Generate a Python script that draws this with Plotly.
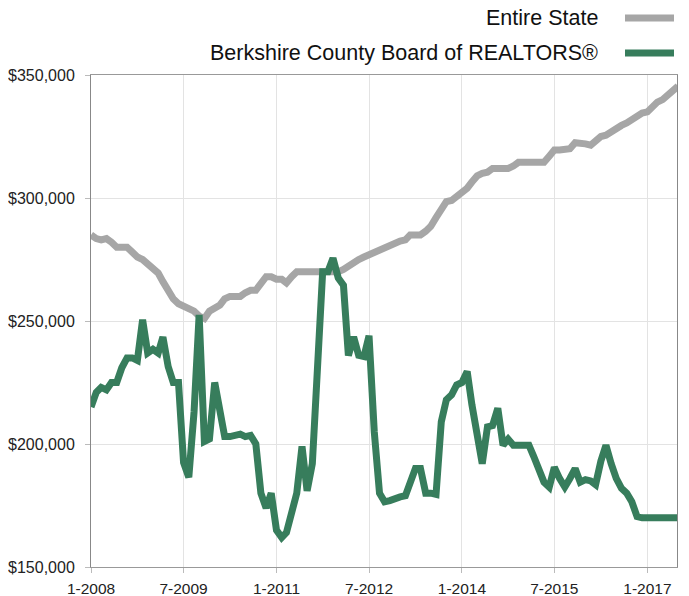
import plotly.graph_objects as go
import pandas as pd

# monthly median sales price, Jan 2008 onward
months = pd.date_range("2008-01-01", periods=115, freq="MS")

entire_state = [
    285000, 283500, 283000, 283500, 282000, 280000, 280000, 280000, 278000, 276000,
    275000, 273000, 271000, 269500, 266000, 262000, 259000, 257000, 256000, 255000,
    254000, 252000, 251000, 254000, 255500, 256500, 259000, 260000, 260000, 260000,
    261500, 262500, 262500, 265000, 268000, 268000, 267000, 267000, 265500, 268000,
    270000, 270000, 270000, 270000, 270000, 270000, 270000, 270000, 270000, 271000,
    272500, 274000, 275000, 276000, 277000, 278000, 279000, 279500, 280500, 282000,
    282500, 283000, 285000, 285000, 285000, 286500, 288500, 292000, 296000, 298500,
    299000, 300500, 302000, 304000, 306500, 309000, 310000, 310500, 312000, 312000,
    312000, 312000, 313000, 314500, 314500, 314500, 314500, 314500, 314500, 317000,
    319500, 319500, 320000, 320000, 322500, 322500, 322000, 321500, 323000, 325000,
    325500, 327000, 328500, 329500, 330500, 332000, 333000, 334500, 335000, 337500,
    339000, 340000, 342000, 344000, 345500,
]

berkshire = [
    215000, 221000, 223000, 222000, 225000, 225000, 231000, 235000, 235000, 234000,
    250500, 237000, 238500, 237000, 243500, 231500, 225000, 225000, 192500, 186500,
    213000, 252500, 201000, 202000, 225000, 212000, 203000, 203000, 203500, 204000,
    203000, 203500, 200000, 180000, 174000, 180000, 165000, 162000, 164000, 172000,
    180000, 199000, 181000, 192000, 231000, 270000, 270000, 275500, 267500, 264500,
    236000, 243500, 236000, 235500, 244000, 205000, 180000, 176500, 177000, 178000,
    178500, 179000, 185000, 190000, 190000, 180000, 180000, 179500, 209000, 218000,
    220000, 224000, 225000, 229500, 216000, 203000, 192000, 207000, 207500, 214500,
    199500, 202000, 199500, 199500, 199500, 199500, 195000, 189000, 184500, 182500,
    190500, 186000, 182500, 186000, 190000, 184500, 185500, 185000, 183500, 193000,
    199500, 192000, 186000, 182000, 180000, 176500, 170500, 170000, 170000, 169500,
    170000, 170000, 170000, 170000, 170000,
]

price_ticks = [150000, 200000, 250000, 300000, 350000]

names = ["Entire State", "Berkshire County Board of REALTORS®"]
colors = ["#a6a6a6", "#377d5c"]

# the page puts the figure 8px in from the top-left corner
W, H = 681, 588
L, R, T, B = 83, 12, 67, 29
pw, ph = W - L - R, H - T - B

fig = go.Figure()
for name, ys, c in zip(names, [entire_state, berkshire], colors):
    fig.add_trace(go.Scatter(x=months, y=ys, name=name, mode="lines",
                             line=dict(color=c, width=7), showlegend=False))

# legend drawn by hand: text right-aligned, swatch on the right
for i, (name, c) in enumerate(zip(names, colors)):
    ypix = 10 + 35 * i
    yp = (T + ph - ypix) / ph
    fig.add_annotation(text=name, xref="paper", yref="paper", x=(591 - L) / pw, y=yp,
                       xanchor="right", yanchor="middle", showarrow=False, borderpad=0,
                       font=dict(size=21.5, color="#111", family="Liberation Sans"))
    fig.add_shape(type="line", xref="paper", yref="paper",
                  x0=(617 - L) / pw, x1=(666 - L) / pw, y0=yp, y1=yp,
                  line=dict(color=c, width=7))

fig.update_layout(
    width=W, height=H,
    margin=dict(l=L, r=R, t=T, b=B, autoexpand=False),
    paper_bgcolor="white", plot_bgcolor="white",
    font=dict(family="Liberation Sans", color="#222"),
    xaxis=dict(range=["2008-01-01", "2017-06-25"], dtick="M18", tick0="2008-01-01",
               tickformat="%-m-%Y", showgrid=True, gridcolor="#e3e3e3", gridwidth=1,
               showline=True, linecolor="#999", mirror=True, ticks="outside",
               ticklen=5, tickcolor="#bbb", tickfont=dict(size=15.5),
               ticklabelstandoff=2),
    yaxis=dict(range=[150000, 350000], tickvals=price_ticks,
               ticktext=[f"${v:,}" for v in price_ticks], showgrid=True,
               gridcolor="#e3e3e3", showline=True, linecolor="#888", mirror=True,
               ticks="outside", ticklen=5, tickcolor="#bbb", tickfont=dict(size=16),
               ticklabelstandoff=7, zeroline=False),
)

fig.write_html("out.html")
